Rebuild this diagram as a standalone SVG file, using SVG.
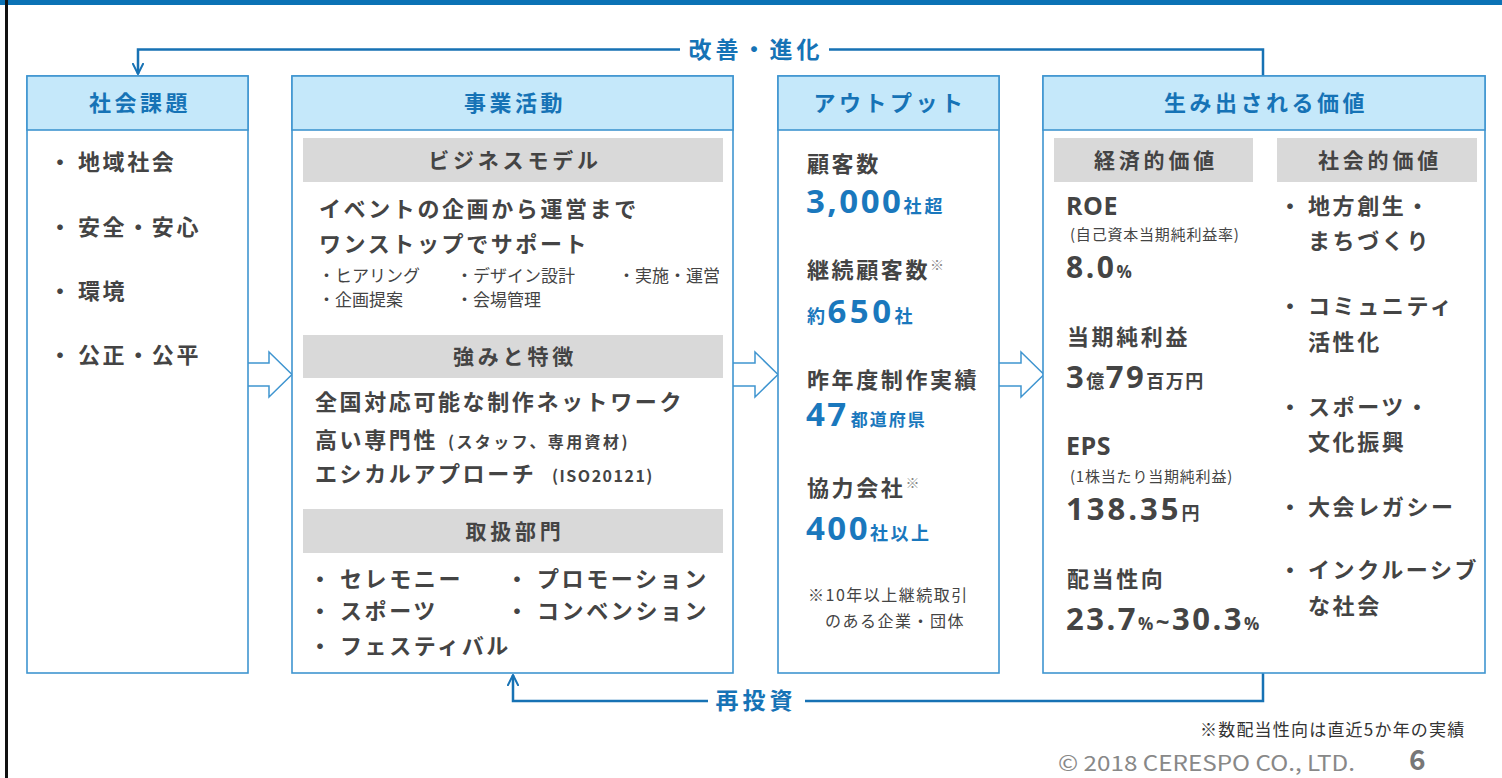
<svg xmlns="http://www.w3.org/2000/svg" width="1502" height="778" viewBox="0 0 1502 778">
<defs>
<style>
text{font-family:"Noto Sans CJK JP","Noto Sans",sans-serif;}
.box{fill:#fff;stroke:#3f95d0;stroke-width:1.6}
.hbar{fill:#c5e8fa;stroke:#3f95d0;stroke-width:1.6}
.gbar{fill:#d9d9d9}
.hdr{font-size:22px;font-weight:700;fill:#1673b6;text-anchor:middle;letter-spacing:3.5px}
.sub{font-size:21px;font-weight:700;fill:#444;text-anchor:middle;letter-spacing:3.8px}
.t{font-size:22px;font-weight:700;fill:#444;letter-spacing:2.6px}
.tm{font-size:16px;font-weight:700;fill:#444;letter-spacing:2.4px}
.s{font-size:17px;fill:#444}
.xs{font-size:15px;fill:#444;letter-spacing:0.8px}
.nb{font-family:"Open Sans","Noto Sans",sans-serif;font-weight:700;fill:#1a78bd;letter-spacing:2.5px}
.nu{font-weight:700;fill:#1a78bd;letter-spacing:2.5px}
.ng{font-family:"Open Sans","Noto Sans",sans-serif;font-weight:700;fill:#444;letter-spacing:2.5px}
.ngu{font-weight:700;fill:#444;letter-spacing:1.5px}
.mk{font-size:14px;fill:#888;letter-spacing:0}
.flow{fill:none;stroke:#1772b4;stroke-width:2.5}
.blk{fill:#fff;stroke:#3f95d0;stroke-width:1.5}
.fb{font-size:23px;font-weight:700;fill:#1673b6;text-anchor:middle;letter-spacing:4px}
</style>
<marker id="chev" viewBox="0 0 12 12" refX="11" refY="6" markerWidth="12" markerHeight="12" markerUnits="userSpaceOnUse" orient="auto">
<path d="M0,0.5 L11,6 L0,11.5" fill="none" stroke="#1772b4" stroke-width="2"/>
</marker>
</defs>
<rect x="0" y="0" width="1502" height="778" fill="#fff"/>
<rect x="0" y="0" width="1502" height="5" fill="#0b72b5"/>
<rect x="5" y="0" width="3" height="778" fill="#111"/>

<g id="connectors">
<path class="flow" d="M1263,76 V49.5 H829"/>
<path class="flow" d="M680,49.5 H138 V74" marker-end="url(#chev)"/>
<text class="fb" x="756" y="58">改善・進化</text>
<path class="flow" d="M1263,673 V701 H805"/>
<path class="flow" d="M708,701 H513 V675" marker-end="url(#chev)"/>
<text class="fb" x="756" y="709">再投資</text>
<path class="blk" d="M248,363 H269 V352 L292,374.5 L269,397 V386 H248"/>
<path class="blk" d="M733,363 H755 V352 L778,374.5 L755,397 V386 H733"/>
<path class="blk" d="M999,363 H1021 V352 L1044,374.5 L1021,397 V386 H999"/>
</g>

<g id="node-shakai-kadai">
<rect class="box" x="27" y="76" width="221" height="597"/>
<rect class="hbar" x="27" y="76" width="221" height="54"/>
<text class="hdr" x="140" y="111">社会課題</text>
<text class="t"><tspan x="49" y="170">・</tspan><tspan x="78" y="170">地域社会</tspan></text>
<text class="t"><tspan x="49" y="235">・</tspan><tspan x="78" y="235">安全・安心</tspan></text>
<text class="t"><tspan x="49" y="299">・</tspan><tspan x="78" y="299">環境</tspan></text>
<text class="t"><tspan x="49" y="363">・</tspan><tspan x="78" y="363">公正・公平</tspan></text>
</g>

<g id="node-jigyo-katsudo">
<rect class="box" x="292" y="76" width="441" height="597"/>
<rect class="hbar" x="292" y="76" width="441" height="54"/>
<text class="hdr" x="515" y="111">事業活動</text>
<rect class="gbar" x="303" y="138" width="420" height="44"/>
<text class="sub" x="515" y="168">ビジネスモデル</text>
<text class="t" x="319" y="217">イベントの企画から運営まで</text>
<text class="t" x="319" y="252">ワンストップでサポート</text>
<text class="s"><tspan x="318" y="282">・ヒアリング</tspan><tspan x="456" y="282">・デザイン設計</tspan><tspan x="618" y="282">・実施・運営</tspan></text>
<text class="s"><tspan x="318" y="306">・企画提案</tspan><tspan x="456" y="306">・会場管理</tspan></text>
<rect class="gbar" x="303" y="335" width="420" height="43"/>
<text class="sub" x="515" y="364">強みと特徴</text>
<text class="t" x="315" y="410">全国対応可能な制作ネットワーク</text>
<text class="t" x="315" y="448">高い専門性<tspan class="tm" x="448">(スタッフ、専用資材)</tspan></text>
<text class="t" x="315" y="482">エシカルアプローチ<tspan class="tm" x="552" style="letter-spacing:1.5px">(ISO20121)</tspan></text>
<rect class="gbar" x="303" y="509" width="420" height="44"/>
<text class="sub" x="515" y="539">取扱部門</text>
<text class="t"><tspan x="309" y="587">・</tspan><tspan x="340" y="587">セレモニー</tspan><tspan x="506" y="587">・</tspan><tspan x="537" y="587">プロモーション</tspan></text>
<text class="t"><tspan x="309" y="619">・</tspan><tspan x="340" y="619">スポーツ</tspan><tspan x="506" y="619">・</tspan><tspan x="537" y="619">コンベンション</tspan></text>
<text class="t"><tspan x="309" y="654">・</tspan><tspan x="340" y="654">フェスティバル</tspan></text>
</g>

<g id="node-output">
<rect class="box" x="778" y="76" width="221" height="597"/>
<rect class="hbar" x="778" y="76" width="221" height="54"/>
<text class="hdr" x="890" y="111">アウトプット</text>
<text class="t" x="807" y="172">顧客数</text>
<text x="806" y="213"><tspan class="nb" font-size="33">3,000</tspan><tspan class="nu" font-size="18" style="letter-spacing:3px">社超</tspan></text>
<text class="t" x="807" y="278">継続顧客数<tspan class="mk" dy="-8">※</tspan></text>
<text x="807" y="323"><tspan class="nu" font-size="18">約</tspan><tspan class="nb" font-size="33" style="letter-spacing:3.5px">650</tspan><tspan class="nu" font-size="18">社</tspan></text>
<text class="t" x="807" y="388">昨年度制作実績</text>
<text x="806" y="426"><tspan class="nb" font-size="33">47</tspan><tspan class="nu" font-size="17" dx="2" style="letter-spacing:2px">都道府県</tspan></text>
<text class="t" x="807" y="496">協力会社<tspan class="mk" dy="-8">※</tspan></text>
<text x="806" y="540"><tspan class="nb" font-size="33">400</tspan><tspan class="nu" font-size="18">社以上</tspan></text>
<text class="s" x="808" y="601" style="font-size:16px;letter-spacing:1.5px">※10年以上継続取引</text>
<text class="s" x="825" y="627" style="font-size:16px;letter-spacing:1.5px">のある企業・団体</text>
</g>

<g id="node-value">
<rect class="box" x="1043" y="76" width="442" height="597"/>
<rect class="hbar" x="1043" y="76" width="442" height="54"/>
<text class="hdr" x="1266" y="111">生み出される価値</text>
<rect class="gbar" x="1054" y="138" width="199" height="44"/>
<text class="sub" x="1156" y="168">経済的価値</text>
<rect class="gbar" x="1277" y="138" width="200" height="44"/>
<text class="sub" x="1380" y="168">社会的価値</text>
<text class="ng" x="1066" y="215" font-size="25" style="letter-spacing:0.5px">ROE</text>
<text class="xs" x="1070" y="240">(自己資本当期純利益率)</text>
<text x="1066" y="278"><tspan class="ng" font-size="30">8.0</tspan><tspan class="ng" font-size="17">%</tspan></text>
<text class="t" x="1067" y="345">当期純利益</text>
<text x="1066" y="388"><tspan class="ng" font-size="31">3</tspan><tspan class="ngu" font-size="18">億</tspan><tspan class="ng" font-size="31">79</tspan><tspan class="ngu" font-size="18">百万円</tspan></text>
<text class="ng" x="1066" y="455" font-size="25" style="letter-spacing:0.5px">EPS</text>
<text class="xs" x="1070" y="482">(1株当たり当期純利益)</text>
<text x="1066" y="520"><tspan class="ng" font-size="31" style="letter-spacing:3px">138.35</tspan><tspan class="ngu" font-size="18">円</tspan></text>
<text class="t" x="1067" y="587">配当性向</text>
<text x="1066" y="630"><tspan class="ng" font-size="31">23.7</tspan><tspan class="ng" font-size="17">%</tspan><tspan class="ng" font-size="24">~</tspan><tspan class="ng" font-size="31">30.3</tspan><tspan class="ng" font-size="17">%</tspan></text>
<text class="t"><tspan x="1279" y="214">・</tspan><tspan x="1308" y="214">地方創生・</tspan></text>
<text class="t" x="1308" y="249">まちづくり</text>
<text class="t"><tspan x="1279" y="314">・</tspan><tspan x="1308" y="314">コミュニティ</tspan></text>
<text class="t" x="1308" y="350">活性化</text>
<text class="t"><tspan x="1279" y="415">・</tspan><tspan x="1308" y="415">スポーツ・</tspan></text>
<text class="t" x="1308" y="450">文化振興</text>
<text class="t"><tspan x="1279" y="515">・</tspan><tspan x="1308" y="515">大会レガシー</tspan></text>
<text class="t"><tspan x="1279" y="578">・</tspan><tspan x="1308" y="578">インクルーシブ</tspan></text>
<text class="t" x="1308" y="614">な社会</text>
</g>

<g id="footer">
<text x="1200" y="736" font-size="17" fill="#333" style="letter-spacing:1.2px">※数配当性向は直近5か年の実績</text>
<text x="1058" y="771" font-family="'Open Sans','Noto Sans',sans-serif" font-size="21" fill="#888" textLength="297" lengthAdjust="spacingAndGlyphs">© 2018 CERESPO CO., LTD.</text>
<text x="1409" y="770" font-family="'Open Sans','Noto Sans',sans-serif" font-size="28" font-weight="700" fill="#777">6</text>
</g>
</svg>
